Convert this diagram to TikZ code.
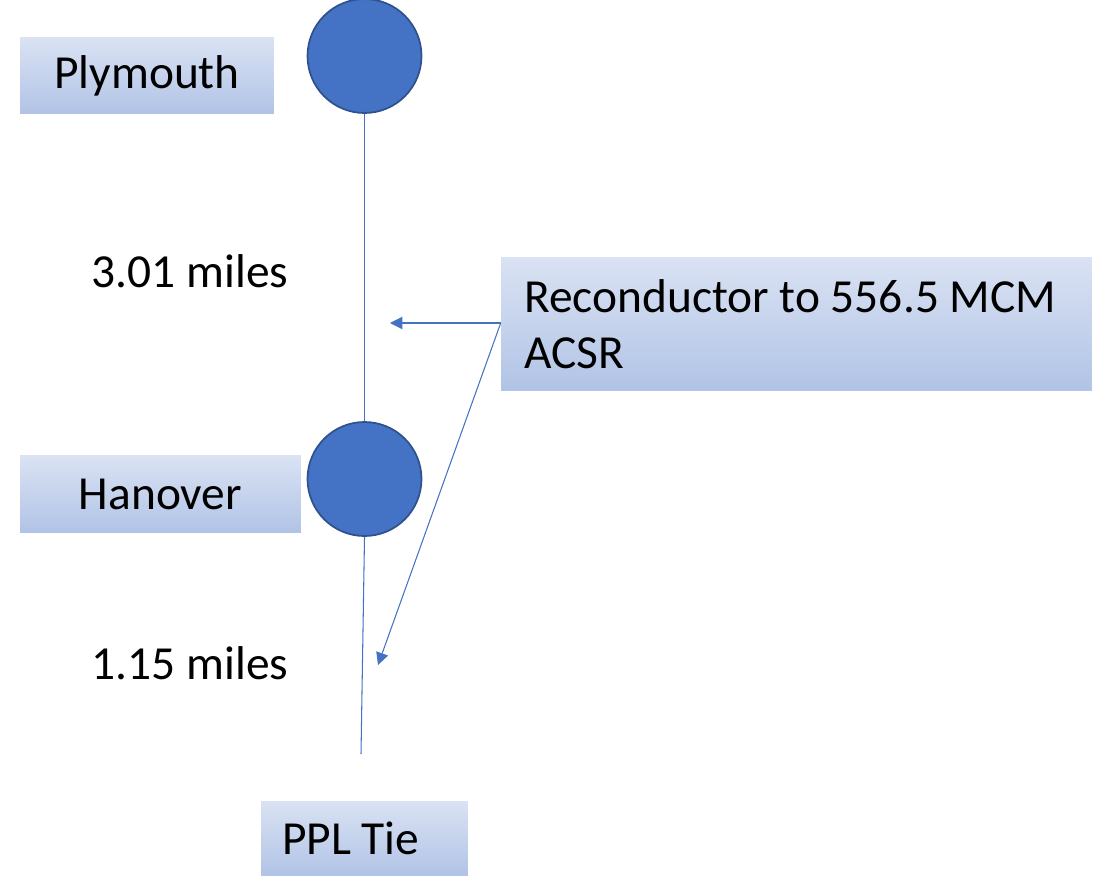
\documentclass[tikz,border=0pt]{standalone}
\usepackage{fontspec}
\setmainfont{Carlito}
\usetikzlibrary{arrows.meta}

\definecolor{busblue}{HTML}{4472C4}
\definecolor{busedge}{HTML}{2F528F}
\definecolor{fadetop}{HTML}{EFF2FA}
\definecolor{fadebot}{HTML}{ABBFE4}
\definecolor{fadeend}{HTML}{C3D1EC}
\pgfdeclareverticalshading{boxfade}{100bp}{color(0bp)=(fadeend); color(6bp)=(fadebot); color(18bp)=(fadebot); color(100bp)=(fadetop)}

\begin{document}
\begin{tikzpicture}[x=0.02cm,y=-0.02cm]
	\tikzset{>={Triangle[length=7pt,width=7pt]}}
	\tikzset{
	  label/.style={shading=boxfade,inner sep=0pt,font=\fontsize{27}{32}\selectfont},
	  bus/.style={circle,fill=busblue,draw=busedge,line width=1pt,minimum size=2.28cm,inner sep=0pt},
	  line/.style={draw=busblue,line width=0.6pt},
	  dist/.style={font=\fontsize{27}{32}\selectfont}
	}
	\useasboundingbox (0,0) rectangle (1097,875);

  % stations
  \node[label,minimum width=5.08cm,minimum height=1.54cm] (plymouth) at (147,75.5) {Plymouth};
  \node[label,minimum width=5.62cm,minimum height=1.54cm] (hanover) at (160.5,494) {Hanover};
  \node[label,minimum width=4.14cm,minimum height=1.48cm,text width=3.3cm,align=flush left] (ppl) at (364.5,838) {PPL Tie};

  \node[bus] (plybus) at (364.5,56) {};
  \node[bus] (hanbus) at (364.5,479) {};

  \node[dist] (d1) at (190,271) {3.01 miles};
  \node[dist] (d2) at (190,663) {1.15 miles};

  \node[label,minimum width=11.82cm,minimum height=2.68cm,text width=10.9cm,align=flush left] (recond) at (796.5,324) {Reconductor to 556.5 MCM\\ACSR};

  \coordinate (tieend) at (361,754);
  \coordinate (tip1) at (390,323);
  \coordinate (tip2) at (378,665);

  \draw[line] (plybus) -- (hanbus);
  \draw[line] (hanbus.south) -- (tieend);

  \draw[line,->,busblue] (recond.west |- tip1) -- (tip1);
  \draw[line,->,busblue] (recond.west |- tip1) -- (tip2);

\end{tikzpicture}
\end{document}
